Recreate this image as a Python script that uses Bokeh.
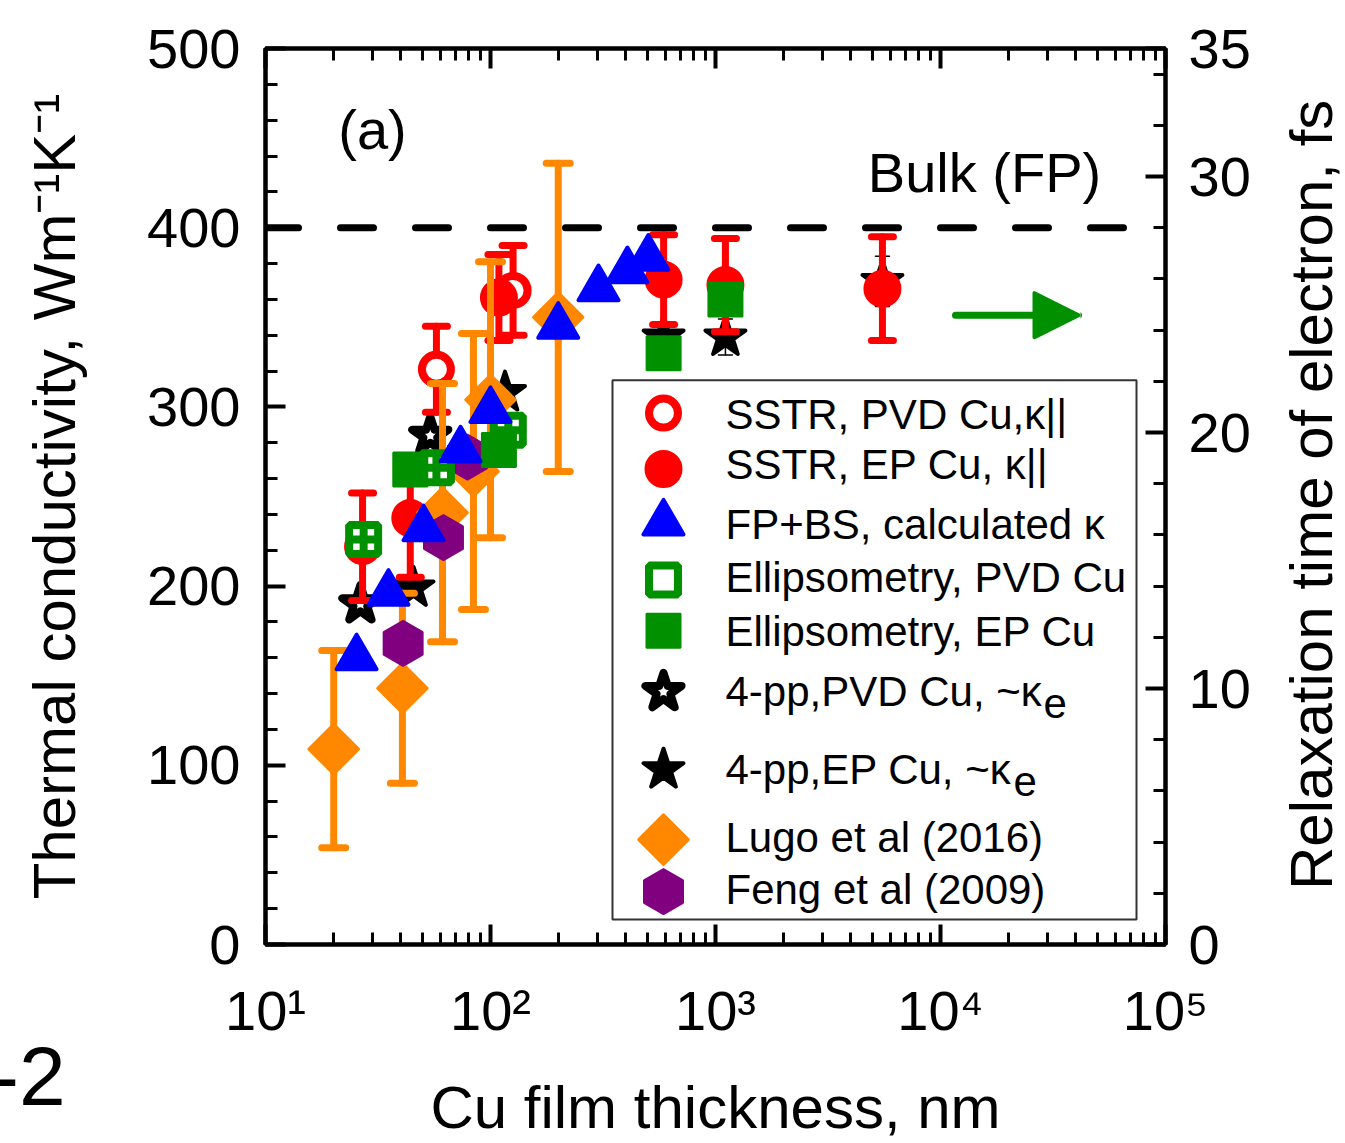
import math
from bokeh.plotting import figure
from bokeh.layouts import column
from bokeh.models import (Range1d, LinearAxis, LogAxis, FixedTicker, Span, Label,
                          Arrow, NormalHead, LinearScale, Div)
from bokeh.embed import file_html
from bokeh.resources import INLINE
from bokeh.core.properties import value

FONT = "Liberation Sans"

# ---------------- data ----------------
# SSTR, PVD Cu (open red circles)
sstr_pvd_x = [27, 57.5, 126]
sstr_pvd_y = [222, 321, 365]
sstr_pvd_err = [30, 24, 25]
# SSTR, EP Cu (filled red circles)
sstr_ep_x = [44, 109, 588, 1107, 5520]
sstr_ep_y = [238, 361, 371, 368, 366]
sstr_ep_err = [33, 24, 25, 26, 29]
# FP+BS calculated (blue triangles)
fpbs_x = [25.4, 35.2, 50.4, 73.6, 100, 200, 302, 406, 503]
fpbs_y = [160, 196, 232, 276, 298, 345, 366, 376, 383]
# Ellipsometry, PVD Cu (open green squares)
ell_pvd_x = [27.3, 57.5, 120]
ell_pvd_y = [226, 266, 287]
# Ellipsometry, EP Cu (filled green squares)
ell_ep_x = [44, 109, 588, 1107]
ell_ep_y = [265, 276, 330, 360]
# 4-pp, PVD Cu (open stars)
pp_pvd_x = [26.4, 54]
pp_pvd_y = [190, 284]
# 4-pp, EP Cu (filled stars)
pp_ep_x = [45.5, 116, 588, 1107, 5520]
pp_ep_y = [199, 308, 339, 339, 370]
pp_ep_err = [0, 0, 0, 10, 14]
# Lugo et al (2016) (orange diamonds)
lugo_x = [20.1, 40.6, 61.2, 84, 100, 200]
lugo_y = [109, 143, 241, 264, 304, 350]
lugo_err = [55, 53, 72, 77, 77, 86]
# Feng et al (2009) (purple hexagons)
feng_x = [40.9, 61.8, 79]
feng_y = [168, 227, 272]

bulk_fp = 400

x_ticks = [10, 100, 1000, 10000, 100000]
x_tick_labels = ["10\u00b9", "10\u00b2", "10\u00b3", "10\u2074", "10\u2075"]
y_ticks = [0, 100, 200, 300, 400, 500]
tau_ticks = [0, 10, 20, 30, 35]

legend_labels = ["SSTR, PVD Cu,\u03ba||", "SSTR, EP Cu, \u03ba||", "FP+BS, calculated \u03ba",
                 "Ellipsometry, PVD Cu", "Ellipsometry, EP Cu", "4-pp,PVD Cu, ~\u03ba",
                 "4-pp,EP Cu, ~\u03ba", "Lugo et al (2016)", "Feng et al (2009)"]

# ---------------- layout constants ----------------
W, H = 1345, 1143
FL, FR, FT, FB = 265, 1165, 48, 945

RED = "#FF0000"
BLUE = "#0000FF"
GREEN = "#009000"
ORANGE = "#FF8800"
PURPLE = "#800080"

STYLES = {
    "sstr_pvd": dict(marker="circle", size=29, fill_color="white", line_color=RED, line_width=8),
    "sstr_ep": dict(marker="circle", size=36, fill_color=RED, line_color=RED, line_width=2),
    "fpbs": dict(marker="triangle", size=40, fill_color=BLUE, line_color=BLUE, line_width=4, line_join="round"),
    "ell_pvd": dict(marker="square_cross", size=29, fill_color="white", line_color=GREEN, line_width=8),
    "ell_pvd_leg": dict(marker="square", size=29, fill_color="white", line_color=GREEN, line_width=8),
    "ell_ep": dict(marker="square", size=34, fill_color=GREEN, line_color=GREEN, line_width=2),
    "pp_pvd": dict(marker="star", size=38, fill_color="white", line_color="black", line_width=8, line_join="round"),
    "pp_ep": dict(marker="star", size=42, fill_color="black", line_color="black", line_width=4, line_join="round"),
    "lugo": dict(marker="square", angle=math.pi / 4, size=35, fill_color=ORANGE, line_color=ORANGE, line_width=3, line_join="round"),
    "feng": dict(marker="hex", angle=math.pi / 2, size=45, fill_color=PURPLE, line_color=PURPLE, line_width=2),
}

p = figure(width=W, height=H, x_axis_type="log", x_range=Range1d(10, 1e5), y_range=Range1d(0, 500),
           output_backend="svg", toolbar_location=None,
           min_border_left=FL, min_border_right=W - FR, min_border_top=FT, min_border_bottom=H - FB,
           background_fill_color="white", border_fill_color="white")
p.xgrid.visible = False
p.ygrid.visible = False
p.outline_line_color = "black"
p.outline_line_width = 4

p.extra_y_ranges = {"tau": Range1d(0, 35), "ly": Range1d(0, FB - FT)}
p.extra_x_ranges = {"lx": Range1d(0, FR - FL)}
p.extra_x_scales = {"lx": LinearScale()}


def style_axis(ax, show_labels=True, standoff=25):
    ax.axis_line_width = 4
    ax.axis_line_color = "black"
    ax.major_tick_in = 20
    ax.major_tick_out = 0
    ax.minor_tick_in = 12
    ax.minor_tick_out = 0
    ax.major_tick_line_width = 4
    ax.minor_tick_line_width = 3
    ax.major_tick_line_color = "black"
    ax.minor_tick_line_color = "black"
    ax.major_label_text_font = FONT
    ax.major_label_text_font_size = "56px" if show_labels else "1px"
    ax.major_label_text_color = "black"
    if not show_labels:
        ax.major_label_text_alpha = 0
    ax.major_label_standoff = standoff
    ax.axis_label_text_font = FONT
    ax.axis_label_text_font_size = "60px"
    ax.axis_label_text_font_style = "normal"
    ax.axis_label_text_color = "black"


x_minor = [m * 10 ** k for k in range(1, 5) for m in range(2, 10)]
xb = p.xaxis[0]
xb.ticker = FixedTicker(ticks=x_ticks, minor_ticks=x_minor)
xb.major_label_overrides = {t: s for t, s in zip(x_ticks, x_tick_labels)}
style_axis(xb, True, 34)
xb.axis_label = "Cu film thickness, nm"
xb.axis_label_standoff = 29

yl = p.yaxis[0]
yl.ticker = FixedTicker(ticks=y_ticks, minor_ticks=list(range(0, 501, 20)))
style_axis(yl, True, 25)
yl.axis_label = "Thermal conductivity, Wm\u207b\u00b9K\u207b\u00b9"
yl.axis_label_standoff = 56

top = LogAxis(ticker=FixedTicker(ticks=x_ticks, minor_ticks=x_minor))
style_axis(top, False, 0)
p.add_layout(top, "above")

yr = LinearAxis(y_range_name="tau", ticker=FixedTicker(ticks=tau_ticks, minor_ticks=list(range(0, 36, 2))))
style_axis(yr, True, 23)
p.add_layout(yr, "right")

# bulk reference line
p.add_layout(Span(location=bulk_fp, dimension="width", line_color="black", line_width=7,
                  line_dash="33 42", line_cap="round"))


def errbars(xs, ys, errs, color, lw, cap, cap_lw):
    sel = [i for i, e in enumerate(errs) if e > 0]
    bx = [xs[i] for i in sel]
    lo = [ys[i] - errs[i] for i in sel]
    hi = [ys[i] + errs[i] for i in sel]
    p.segment(x0=bx, y0=lo, x1=bx, y1=hi, line_color=color, line_width=lw, line_cap="round")
    p.scatter(x=bx + bx, y=lo + hi, marker="dash", size=cap, line_color=color,
              line_width=cap_lw, line_cap="round")


# stars first
p.scatter(x=pp_pvd_x, y=pp_pvd_y, **STYLES["pp_pvd"])
errbars(pp_ep_x, pp_ep_y, pp_ep_err, "black", 1.5, 14, 1.5)
p.scatter(x=pp_ep_x, y=pp_ep_y, **STYLES["pp_ep"])
# SSTR
errbars(sstr_pvd_x, sstr_pvd_y, sstr_pvd_err, RED, 7, 22, 7)
p.scatter(x=sstr_pvd_x, y=sstr_pvd_y, **STYLES["sstr_pvd"])
errbars(sstr_ep_x, sstr_ep_y, sstr_ep_err, RED, 7, 22, 7)
p.scatter(x=sstr_ep_x, y=sstr_ep_y, **STYLES["sstr_ep"])
# Lugo
errbars(lugo_x, lugo_y, lugo_err, ORANGE, 7, 24, 7)
p.scatter(x=lugo_x, y=lugo_y, **STYLES["lugo"])
# Feng
p.scatter(x=feng_x, y=feng_y, **STYLES["feng"])
# Ellipsometry
p.scatter(x=ell_pvd_x, y=ell_pvd_y, **STYLES["ell_pvd"])
p.scatter(x=ell_ep_x, y=ell_ep_y, **STYLES["ell_ep"])
# FP+BS
p.scatter(x=fpbs_x, y=fpbs_y, **STYLES["fpbs"])


def fx(X):
    return X - FL


def fy(Y):
    return FB - Y


# arrow pointing to right axis
p.add_layout(Arrow(x_start=fx(955), y_start=fy(315), x_end=fx(1078), y_end=fy(315),
                   x_range_name="lx", y_range_name="ly",
                   line_color=GREEN, line_width=7, line_cap="round",
                   end=NormalHead(size=44, fill_color=GREEN, line_color=GREEN, line_width=4,
                                  line_join="round")))

# ---------------- legend (drawn by hand for marker size) ----------------
p.quad(left=[fx(612)], right=[fx(1136)], top=[fy(380)], bottom=[fy(920)],
       x_range_name="lx", y_range_name="ly", fill_color="white", line_color="#333333", line_width=2)
leg_keys = ["sstr_pvd", "sstr_ep", "fpbs", "ell_pvd_leg", "ell_ep", "pp_pvd", "pp_ep", "lugo", "feng"]
leg_marker_y = [413, 469, 523, 580, 631, 692, 770, 840, 892]
leg_text_y = [414, 464, 525, 578, 632, 692, 770, 838, 890]   # centre of capitals
for key, my in zip(leg_keys, leg_marker_y):
    p.scatter(x=[fx(663)], y=[fy(my)], x_range_name="lx", y_range_name="ly", **STYLES[key])
p.text(x=[fx(725)] * len(legend_labels), y=[fy(t) for t in leg_text_y], text=legend_labels,
       x_range_name="lx", y_range_name="ly", text_font=value(FONT), text_font_size="42px",
       text_baseline="middle", text_align="left", text_color="black")
# subscript "e" of kappa_e
p.text(x=[fx(1043), fx(1013)], y=[fy(704), fy(782)], text=["e", "e"],
       x_range_name="lx", y_range_name="ly", text_font=value(FONT), text_font_size="42px",
       text_baseline="middle", text_align="left", text_color="black")


def frame_label(text, X, Y, size, align="left"):
    p.add_layout(Label(x=X - FL, y=FB - Y, x_units="screen", y_units="screen", text=text,
                       text_font=FONT, text_font_size=size, text_align=align,
                       text_baseline="middle", text_color="black"))


frame_label("(a)", 372, 130, "56px", "center")
frame_label("Bulk (FP)", 984, 173, "56px", "center")

# right-hand axis title, reading bottom to top
right_title = Div(text="Relaxation time of electron, fs",
                  styles={"position": "absolute", "left": "1282px", "top": "890px",
                          "width": "800px", "white-space": "nowrap",
                          "transform": "rotate(-90deg)", "transform-origin": "0 0",
                          "font-family": FONT, "font-size": "60px", "line-height": "60px",
                          "color": "black", "margin": "0", "padding": "0"})

# fragment of the neighbouring panel's label, cut at the left edge
frag = Div(text="-2", styles={"position": "absolute", "left": "-9px", "top": "1034px",
                               "font-family": FONT, "font-size": "84px", "line-height": "84px",
                               "color": "black", "margin": "0", "padding": "0"})

layout = column(p, right_title, frag)
open("out.html", "w").write(file_html(layout, INLINE))
